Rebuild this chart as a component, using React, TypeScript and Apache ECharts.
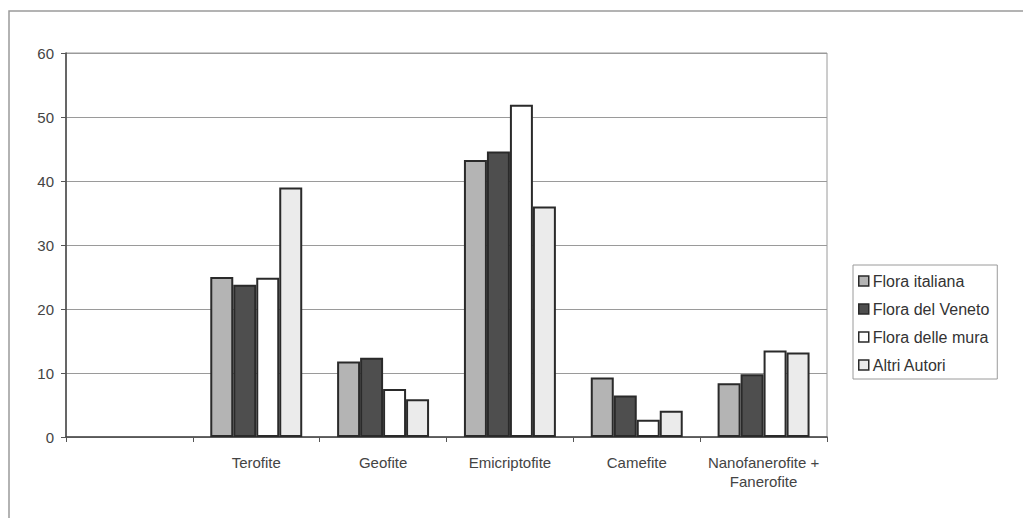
import React, { useEffect, useRef } from "react";
import * as echarts from "echarts";

// Life-form spectrum: share (%) of each Raunkiær class in four floras
const categories = [
  "",
  "Terofite",
  "Geofite",
  "Emicriptofite",
  "Camefite",
  "Nanofanerofite +\nFanerofite",
];
const floraItaliana = [null, 25, 11.8, 43.3, 9.3, 8.4];
const floraVeneto = [null, 23.8, 12.4, 44.6, 6.5, 9.8];
const floraMura = [null, 24.9, 7.5, 51.9, 2.7, 13.5];
const altriAutori = [null, 39, 5.9, 36, 4.1, 13.2];
const yTicks = { min: 0, max: 60, interval: 10 };

const FONT = '"Liberation Sans", Arial, Helvetica, sans-serif';

export default function App() {
  const ref = useRef<HTMLDivElement>(null);

  useEffect(() => {
    if (!ref.current) return;
    const chart = echarts.init(ref.current, null, { renderer: "svg" });

    const barStyle = (fill: string) => ({
      color: fill,
      borderColor: "#2a2a2a",
      borderWidth: 2,
    });

    const series = [
      { name: "Flora italiana", data: floraItaliana, fill: "#b4b4b4" },
      { name: "Flora del Veneto", data: floraVeneto, fill: "#4e4e4e" },
      { name: "Flora delle mura", data: floraMura, fill: "#ffffff" },
      { name: "Altri Autori", data: altriAutori, fill: "#ebebeb" },
    ].map((s) => ({
      type: "bar" as const,
      name: s.name,
      data: s.data,
      barGap: "0%",
      barCategoryGap: "27.5%",
      itemStyle: barStyle(s.fill),
    }));

    chart.setOption({
      animation: false,
      backgroundColor: "#ffffff",
      textStyle: { fontFamily: FONT },
      graphic: [
        {
          type: "rect",
          shape: { x: 9, y: 11, width: 1100, height: 600 },
          style: { fill: "none", stroke: "#9a9a9a", lineWidth: 1.5 },
          silent: true,
        },
      ],
      grid: {
        left: 66,
        top: 53,
        right: 196,
        bottom: 81,
        show: true,
        borderColor: "#9a9a9a",
        borderWidth: 1,
      },
      legend: {
        orient: "vertical",
        left: 853,
        top: 265,
        padding: [8, 8, 6, 5],
        itemGap: 12,
        itemWidth: 10,
        itemHeight: 10,
        icon: "rect",
        borderColor: "#9a9a9a",
        borderWidth: 1,
        backgroundColor: "#ffffff",
        textStyle: {
          fontFamily: FONT,
          fontSize: 16,
          lineHeight: 16,
          color: "#333333",
          padding: [0, 0, 0, -1],
        },
        itemStyle: { borderWidth: 1.5 },
        selectedMode: false,
      },
      xAxis: {
        type: "category",
        data: categories,
        axisLine: { lineStyle: { color: "#444444", width: 1.5 } },
        axisTick: {
          show: true,
          length: 5,
          alignWithLabel: false,
          lineStyle: { color: "#555555" },
        },
        axisLabel: {
          interval: 0,
          margin: 16,
          fontSize: 15,
          lineHeight: 19,
          color: "#444444",
          fontFamily: FONT,
        },
      },
      yAxis: {
        type: "value",
        min: yTicks.min,
        max: yTicks.max,
        interval: yTicks.interval,
        axisLine: { show: true, lineStyle: { color: "#444444", width: 1.5 } },
        axisTick: { show: true, length: 5, lineStyle: { color: "#555555" } },
        splitLine: { show: true, lineStyle: { color: "#9a9a9a", width: 1 } },
        axisLabel: {
          margin: 12,
          fontSize: 15,
          color: "#444444",
          fontFamily: FONT,
        },
      },
      series,
    });

    return () => chart.dispose();
  }, []);

  return (
    <div
      ref={ref}
      style={{ position: "fixed", left: 0, top: 0, width: 1023, height: 518 }}
    />
  );
}
